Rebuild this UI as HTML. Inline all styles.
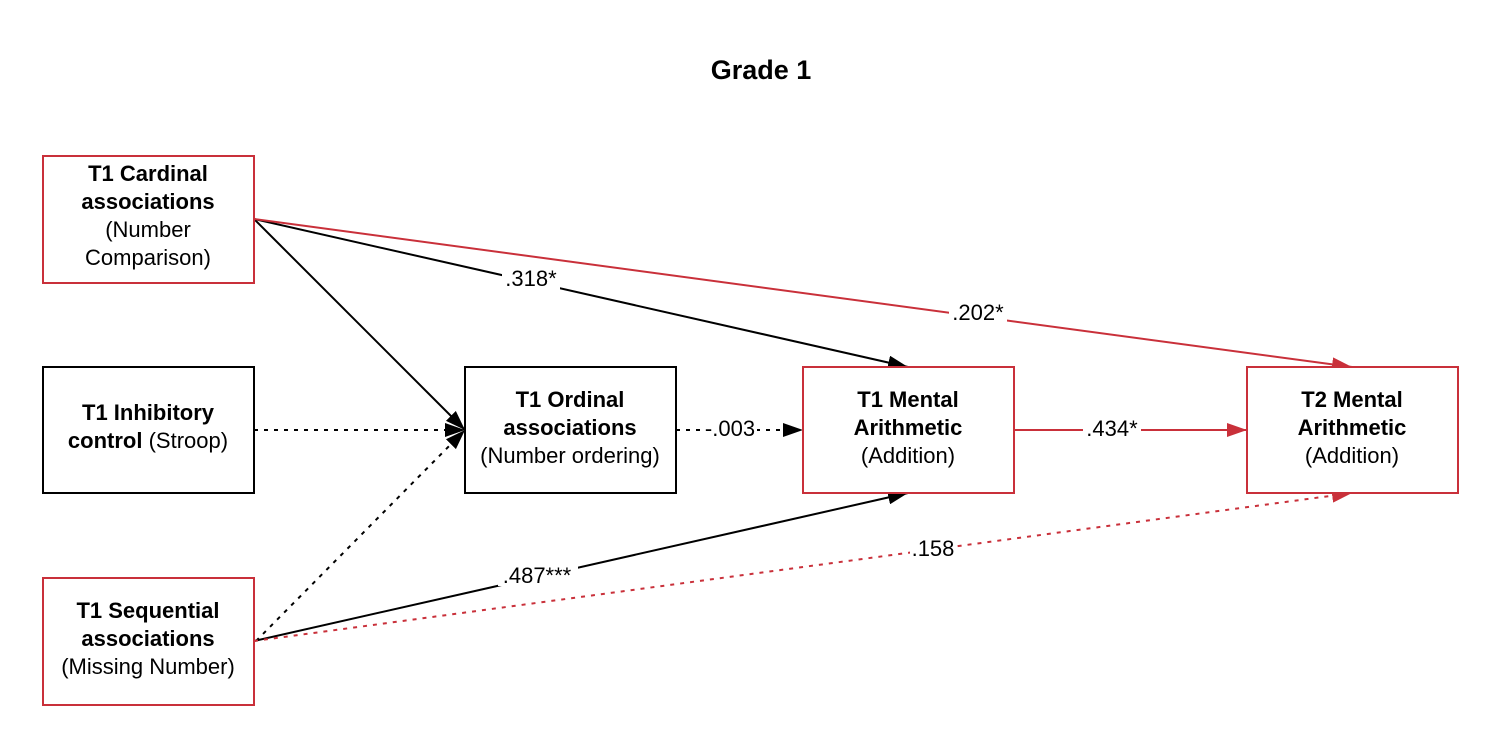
<!DOCTYPE html>
<html><head><meta charset="utf-8"><style>
html,body{margin:0;padding:0;background:#fff;}
svg{display:block;font-family:"Liberation Sans",Arial,sans-serif;}
</style></head><body>
<svg width="1500" height="748" viewBox="0 0 1500 748" xmlns="http://www.w3.org/2000/svg">
<defs>
<marker id="abl" viewBox="0 0 10 10" refX="10" refY="5" markerWidth="20" markerHeight="14" markerUnits="userSpaceOnUse" orient="auto" preserveAspectRatio="none"><path d="M0,0 L10,5 L0,10 z" fill="#000"/></marker>
<marker id="ar" viewBox="0 0 10 10" refX="10" refY="5" markerWidth="20" markerHeight="14" markerUnits="userSpaceOnUse" orient="auto" preserveAspectRatio="none"><path d="M0,0 L10,5 L0,10 z" fill="#c9303a"/></marker>
</defs>
<text x="761" y="79" text-anchor="middle" font-size="27" font-weight="bold">Grade 1</text>

<g fill="none" stroke-width="2">
<line x1="254" y1="219" x2="465" y2="430" stroke="#000" marker-end="url(#abl)"/>
<line x1="254" y1="219" x2="908" y2="367" stroke="#000" marker-end="url(#abl)"/>
<line x1="254" y1="219" x2="1352" y2="367" stroke="#c9303a" marker-end="url(#ar)"/>
<line x1="254" y1="430" x2="465" y2="430" stroke="#000" stroke-dasharray="4,6" marker-end="url(#abl)"/>
<line x1="256" y1="641" x2="465" y2="430" stroke="#000" stroke-dasharray="4,6" marker-end="url(#abl)"/>
<line x1="254" y1="641" x2="908" y2="493" stroke="#000" marker-end="url(#abl)"/>
<line x1="254" y1="641" x2="1352" y2="493" stroke="#c9303a" stroke-dasharray="4,6" marker-end="url(#ar)"/>
<line x1="676" y1="430" x2="803" y2="430" stroke="#000" stroke-dasharray="4,6" marker-end="url(#abl)"/>
<line x1="1014" y1="430" x2="1247" y2="430" stroke="#c9303a" marker-end="url(#ar)"/>
</g>

<g font-size="22" text-anchor="middle">
<rect x="502" y="266" width="58" height="24" fill="#fff"/><text x="531" y="286">.318*</text>
<rect x="949" y="300" width="58" height="24" fill="#fff"/><text x="978" y="320">.202*</text>
<rect x="498" y="562" width="80" height="24" fill="#fff"/><text x="537" y="583">.487***</text>
<rect x="910" y="535" width="46" height="24" fill="#fff"/><text x="933" y="556">.158</text>
<rect x="703" y="416" width="54" height="24" fill="#fff"/><text x="730" y="436">-.003</text>
<rect x="1083" y="416" width="58" height="24" fill="#fff"/><text x="1112" y="436">.434*</text>
</g>

<g stroke-width="2" fill="#fff">
<rect x="43" y="156" width="211" height="127" stroke="#c9303a"/>
<rect x="43" y="367" width="211" height="126" stroke="#000"/>
<rect x="43" y="578" width="211" height="127" stroke="#c9303a"/>
<rect x="465" y="367" width="211" height="126" stroke="#000"/>
<rect x="803" y="367" width="211" height="126" stroke="#c9303a"/>
<rect x="1247" y="367" width="211" height="126" stroke="#c9303a"/>
</g>

<g font-size="22" text-anchor="middle">
<text x="148" y="181" font-weight="bold">T1 Cardinal</text>
<text x="148" y="209" font-weight="bold">associations</text>
<text x="148" y="237">(Number</text>
<text x="148" y="265">Comparison)</text>

<text x="148" y="420" font-weight="bold">T1 Inhibitory</text>
<text x="148" y="448"><tspan font-weight="bold">control</tspan> (Stroop)</text>

<text x="148" y="618" font-weight="bold">T1 Sequential</text>
<text x="148" y="646" font-weight="bold">associations</text>
<text x="148" y="674">(Missing Number)</text>

<text x="570" y="407" font-weight="bold">T1 Ordinal</text>
<text x="570" y="435" font-weight="bold">associations</text>
<text x="570" y="463">(Number ordering)</text>

<text x="908" y="407" font-weight="bold">T1 Mental</text>
<text x="908" y="435" font-weight="bold">Arithmetic</text>
<text x="908" y="463">(Addition)</text>

<text x="1352" y="407" font-weight="bold">T2 Mental</text>
<text x="1352" y="435" font-weight="bold">Arithmetic</text>
<text x="1352" y="463">(Addition)</text>
</g>
</svg>
</body></html>
